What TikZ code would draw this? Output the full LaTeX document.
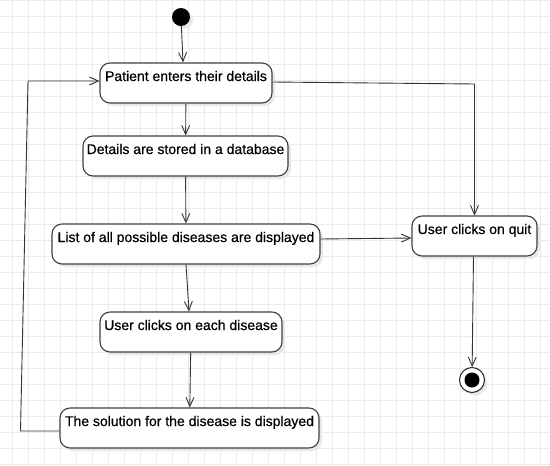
\documentclass[tikz,border=0pt]{standalone}
\usepackage{fontspec}
\setmainfont{Liberation Sans}
\usetikzlibrary{arrows.meta}
\usetikzlibrary{shadows}

\begin{document}
\begin{tikzpicture}[x=1pt,y=-1pt,
    gridline/.style={draw=black!8, line width=0.8pt},
    state/.style={draw=black!75, line width=1.1pt, fill=white, rounded corners=10pt,
        minimum height=40pt, inner xsep=2pt, inner ysep=0pt, text height=18pt, text depth=22pt,
        font=\fontsize{14}{16}\selectfont\addfontfeature{FakeBold=0.5},
        drop shadow={shadow xshift=3pt, shadow yshift=-3pt, fill=black!9, opacity=1}},
    startdot/.style={circle, fill=black, inner sep=0pt, minimum size=18pt,
        drop shadow={shadow xshift=3pt, shadow yshift=-3pt, fill=black!9, opacity=1}},
    enddot/.style={circle, draw=black!85, line width=1pt, fill=white, inner sep=0pt, minimum size=25pt,
        path picture={\fill[black] (path picture bounding box.center) circle (7.5pt);},
        drop shadow={shadow xshift=3pt, shadow yshift=-3pt, fill=black!9, opacity=1}},
    flow/.style={draw=black!80, line width=0.9pt, -{Straight Barb[length=9pt,width=8pt]}}]

    \fill[white] (0,0) rectangle (550,466);
    \useasboundingbox (0,0) rectangle (550,466);
    \foreach \x in {12.5,28.5,...,550} {
        \draw[gridline] (\x,0) -- (\x,466);
    }
    \foreach \y in {0,16,...,466} {
        \draw[gridline] (0,\y) -- (550,\y);
    }

    \node[startdot] (start) at (181,17) {};
    \node[state, minimum width=172pt] (enter) at (186,83) {Patient enters their details};
    \node[state, minimum width=205pt] (store) at (185.5,156) {Details are stored in a database};
    \node[state, minimum width=268pt] (list) at (186,244) {List of all possible diseases are displayed};
    \node[state, minimum width=182pt] (pick) at (191,332) {User clicks on each disease};
    \node[state, minimum width=259pt] (solution) at (189.5,428) {The solution for the disease is displayed};
    \node[state, minimum width=125pt] (quit) at (474.5,236) {User clicks on quit};
    \node[enddot] (finish) at (472,380) {};

    \coordinate (back1) at (20.5,431);
    \coordinate (back2) at (28,81);
    \coordinate (corner) at (474.5,84);

    \draw[flow] (start) -- ([xshift=-3pt]enter.north);
    \draw[flow] (enter) -- (store);
    \draw[flow] (store) -- (list);
    \draw[flow] (list.south) -- ([xshift=-2pt]pick.north);
    \draw[flow] (pick) -- (solution);
    \draw[flow] ([yshift=-3pt]solution.west) -- (back1) -- (back2) -- ([yshift=2pt]enter.west);
    \draw[flow] ([yshift=1pt]enter.east) -- (corner) -- (quit.north);
    \draw[flow] ([yshift=5pt]list.east) -- ([yshift=-2pt]quit.west);
    \draw[flow] ([xshift=-1pt]quit.south) -- (finish);
\end{tikzpicture}
\end{document}
